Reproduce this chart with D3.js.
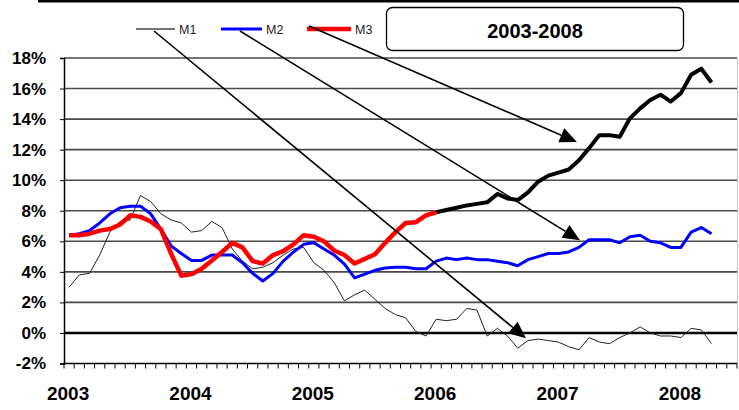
<!DOCTYPE html>
<html><head><meta charset="utf-8">
<script src="https://cdn.jsdelivr.net/npm/d3@7"></script>
<style>body{margin:0;background:#fff}svg{display:block}text{font-family:"Liberation Sans",Arial,sans-serif}</style>
</head><body><svg id="c" width="739" height="410"></svg>
<script>
// Monthly categories Jan 2003 .. Jun 2008
const years = [2003, 2004, 2005, 2006, 2007, 2008];
const months = d3.range(66).map(i => `${2003 + Math.floor(i / 12)}-${String(i % 12 + 1).padStart(2, "0")}`);
const yearLabels = ["2003", "2004", "2005", "2006", "2007", "2008"];
const yTicks = [-2, 0, 2, 4, 6, 8, 10, 12, 14, 16, 18];
const title = "2003-2008";
const seriesNames = ["M1", "M2", "M3"];

const m1 = [3.0,3.8,3.9,5.1,6.6,7.3,7.4,9.0,8.6,7.8,7.4,7.2,
            6.6,6.7,7.3,6.9,5.5,4.7,4.2,4.3,4.6,5.1,5.5,5.6,
            4.6,4.1,3.3,2.1,2.5,2.8,2.2,1.6,1.2,1.0,0.1,-0.2,
            0.9,0.8,0.9,1.6,1.5,-0.2,0.3,-0.2,-1.0,-0.5,-0.4,-0.5,
            -0.6,-0.9,-1.1,-0.3,-0.6,-0.7,-0.3,0.0,0.4,0.0,-0.2,-0.2,
            -0.3,0.3,0.2,-0.7];
const m2 = [6.4,6.5,6.7,7.2,7.8,8.2,8.3,8.3,7.8,6.8,5.7,5.2,
            4.75,4.75,5.1,5.1,5.1,4.6,3.9,3.4,3.9,4.7,5.3,5.8,
            5.9,5.5,5.1,4.5,3.6,3.85,4.1,4.25,4.3,4.3,4.2,4.2,
            4.7,4.9,4.8,4.9,4.8,4.8,4.7,4.6,4.4,4.8,5.0,5.2,
            5.2,5.3,5.6,6.1,6.1,6.1,5.9,6.3,6.4,6.0,5.9,5.6,
            5.6,6.6,6.9,6.5];
const m3 = [6.4,6.4,6.5,6.7,6.8,7.1,7.7,7.6,7.3,6.8,5.2,3.75,
            3.85,4.2,4.75,5.3,5.9,5.6,4.7,4.55,5.1,5.35,5.8,6.4,
            6.3,6.0,5.4,5.1,4.55,4.85,5.15,5.9,6.6,7.2,7.25,7.7,
            7.9,8.05,8.2,8.35,8.45,8.55,9.1,8.8,8.7,9.2,9.9,10.3,
            10.5,10.7,11.3,12.1,12.95,12.95,12.85,14.05,14.7,15.25,15.6,15.15,
            15.7,16.9,17.3,16.4];
const m3RedUntil = 36; // red through Jan 2006, black afterwards
// arrow targets: [month index, value]
const arrowTargets = [[44.8, -0.35], [50.1, 6.07], [49.8, 12.5]];

const svg = d3.select("#c");
const L = 64, R = 737, T = 58, B = 363.5;
const xb = d3.scaleBand().domain(d3.range(months.length)).range([L, R]);
const xc = i => xb(0) + (i + 0.5) * xb.bandwidth();
const y = d3.scaleLinear().domain([-2, 18]).range([B, T]);

// top rule
svg.append("rect").attr("x", 38).attr("y", 0).attr("width", 701).attr("height", 2.5).attr("fill", "#000");

// gridlines
svg.append("g").selectAll("line").data(yTicks.filter(v => v > -2)).join("line")
  .attr("x1", L).attr("x2", R).attr("y1", d => y(d)).attr("y2", d => y(d))
  .attr("stroke", d => d === 0 ? "#000" : "#4a4a4a")
  .attr("stroke-width", d => d === 0 ? 2.6 : 1.6);
// right border
svg.append("line").attr("x1", R + 0.5).attr("x2", R + 0.5).attr("y1", T).attr("y2", B)
  .attr("stroke", "#c8c8c8").attr("stroke-width", 1);

// y axis
const ya = svg.append("g").attr("transform", `translate(${L},0)`)
  .call(d3.axisLeft(y).tickValues(yTicks).tickFormat(d => d + "%").tickSize(4).tickPadding(14));
ya.select(".domain").attr("stroke", "#000").attr("stroke-width", 1.5);
ya.selectAll(".tick line").attr("stroke", "#000");
ya.selectAll("text").attr("font-size", 17).attr("font-weight", "bold").attr("fill", "#000")
  .style("font-family", '"Liberation Sans",Arial,sans-serif');

// x axis with monthly ticks at category boundaries
const xa = svg.append("g").attr("transform", `translate(0,${B})`);
xa.append("line").attr("x1", L).attr("x2", R).attr("stroke", "#000").attr("stroke-width", 1.5);
xa.selectAll("line.t").data(d3.range(months.length + 1)).join("line").attr("class", "t")
  .attr("x1", i => xb(0) + i * xb.bandwidth()).attr("x2", i => xb(0) + i * xb.bandwidth())
  .attr("y1", 0).attr("y2", 5).attr("stroke", "#000").attr("stroke-width", 1);
xa.selectAll("text").data(yearLabels).join("text")
  .attr("x", (d, k) => xc(k * 12) - 1).attr("y", 36)
  .attr("text-anchor", "middle").attr("font-size", 19).attr("font-weight", "bold").text(d => d);

// lines
const line = d3.line().x((d, i) => xc(d.i)).y(d => y(d.v));
const pts = arr => arr.map((v, i) => ({ i, v }));
svg.append("path").datum(pts(m1)).attr("d", line).attr("fill", "none")
  .attr("stroke", "#222").attr("stroke-width", 1);
svg.append("path").datum(pts(m2)).attr("d", line).attr("fill", "none")
  .attr("stroke", "#0000ff").attr("stroke-width", 3).attr("stroke-linejoin", "round");
const p3 = pts(m3);
svg.append("path").datum(p3.slice(m3RedUntil)).attr("d", line).attr("fill", "none")
  .attr("stroke", "#000").attr("stroke-width", 4).attr("stroke-linejoin", "round");
svg.append("path").datum(p3.slice(0, m3RedUntil + 1)).attr("d", line).attr("fill", "none")
  .attr("stroke", "#ff0000").attr("stroke-width", 4.5).attr("stroke-linejoin", "round");

// legend
const legend = [
  { name: seriesNames[0], x1: 136, x2: 175, color: "#444", w: 1.5, ax: 154, ay: 31 },
  { name: seriesNames[1], x1: 221, x2: 262, color: "#0000ff", w: 3, ax: 240, ay: 31 },
  { name: seriesNames[2], x1: 307, x2: 351, color: "#ff0000", w: 4.5, ax: 309, ay: 26 }
];
const ly = 29;
legend.forEach(l => {
  svg.append("line").attr("x1", l.x1).attr("x2", l.x2).attr("y1", ly).attr("y2", ly)
    .attr("stroke", l.color).attr("stroke-width", l.w);
  svg.append("text").attr("x", l.x2 + 4).attr("y", ly + 4.5).attr("font-size", 12.5)
    .attr("fill", "#222").text(l.name);
});

// title box
svg.append("rect").attr("x", 386.5).attr("y", 7.5).attr("width", 297).attr("height", 43)
  .attr("rx", 6).attr("fill", "#fff").attr("stroke", "#000").attr("stroke-width", 1.3);
svg.append("text").attr("x", 535).attr("y", 37.5).attr("text-anchor", "middle")
  .attr("font-size", 20).attr("font-weight", "bold").text(title);

// arrows
legend.forEach((l, k) => {
  const tx = xc(arrowTargets[k][0]), ty = y(arrowTargets[k][1]);
  const ang = Math.atan2(ty - l.ay, tx - l.ax);
  const len = 17, hw = 7.5;
  const bx = tx - len * Math.cos(ang), by = ty - len * Math.sin(ang);
  svg.append("line").attr("x1", l.ax).attr("y1", l.ay).attr("x2", bx).attr("y2", by)
    .attr("stroke", "#000").attr("stroke-width", 1.6);
  const px = -Math.sin(ang), py = Math.cos(ang);
  svg.append("path").attr("d", `M${tx},${ty}L${bx + hw * px},${by + hw * py}L${bx - hw * px},${by - hw * py}Z`)
    .attr("fill", "#000");
});
</script></body></html>
